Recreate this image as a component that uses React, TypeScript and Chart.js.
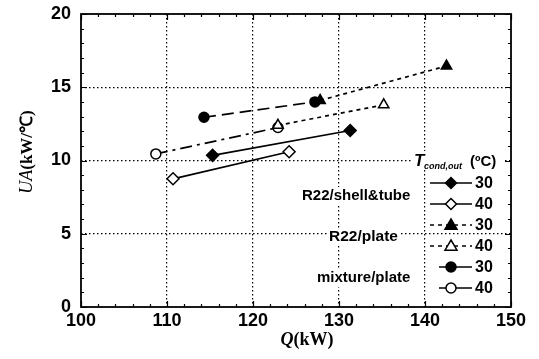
import React, { useEffect, useRef } from "react";
import { Chart, registerables } from "chart.js";
Chart.register(...registerables);

const xRange = [100, 150];
const yRange = [0, 20];
const xStep = 10;
const yStep = 5;

const shellTube30 = [{ x: 115.3, y: 10.35 }, { x: 131.3, y: 12.05 }];
const shellTube40 = [{ x: 110.7, y: 8.75 }, { x: 124.2, y: 10.6 }];
const plate30 = [{ x: 127.8, y: 14.1 }, { x: 142.5, y: 16.45 }];
const plate40 = [{ x: 122.9, y: 12.4 }, { x: 135.2, y: 13.8 }];
const mixture30 = [{ x: 114.3, y: 12.95 }, { x: 127.2, y: 14.0 }];
const mixture40 = [{ x: 108.7, y: 10.45 }, { x: 122.9, y: 12.25 }];

const legendTemps = ["30", "40", "30", "40", "30", "40"];
const groupLabels = ["R22/shell&tube", "R22/plate", "mixture/plate"];

const SANS = '"Liberation Sans", Arial, sans-serif';
const SERIF = '"Liberation Serif", "Times New Roman", serif';

type Style = { shape: string; filled: boolean; dash: number[] };
const styles: Style[] = [
  { shape: "diamond", filled: true, dash: [] },
  { shape: "diamond", filled: false, dash: [] },
  { shape: "triangle", filled: true, dash: [4, 4] },
  { shape: "triangle", filled: false, dash: [4, 4] },
  { shape: "circle", filled: true, dash: [12, 6] },
  { shape: "circle", filled: false, dash: [12, 5, 3, 5] },
];

function drawMarker(ctx: CanvasRenderingContext2D, s: Style, x: number, y: number) {
  ctx.save();
  ctx.setLineDash([]);
  ctx.lineWidth = 1.5;
  ctx.strokeStyle = "#000";
  ctx.fillStyle = s.filled ? "#000" : "#fff";
  ctx.beginPath();
  if (s.shape === "diamond") {
    const r = 5.5;
    ctx.moveTo(x, y - r);
    ctx.lineTo(x + r, y);
    ctx.lineTo(x, y + r);
    ctx.lineTo(x - r, y);
    ctx.closePath();
  } else if (s.shape === "triangle") {
    const r = 6;
    ctx.moveTo(x, y - r);
    ctx.lineTo(x + r, y + r * 0.7);
    ctx.lineTo(x - r, y + r * 0.7);
    ctx.closePath();
  } else {
    ctx.arc(x, y, 5, 0, Math.PI * 2);
  }
  ctx.fill();
  ctx.stroke();
  ctx.restore();
}

function whiteText(ctx: CanvasRenderingContext2D, text: string, x: number, y: number, font: string) {
  ctx.font = font;
  const w = ctx.measureText(text).width;
  ctx.fillStyle = "#fff";
  ctx.fillRect(x - 2, y - 9, w + 4, 18);
  ctx.fillStyle = "#000";
  ctx.textBaseline = "middle";
  ctx.textAlign = "left";
  ctx.fillText(text, x, y);
  return w;
}

const decorPlugin = {
  id: "decor",
  afterDraw(chart: any) {
    const ctx: CanvasRenderingContext2D = chart.ctx;
    const xs = chart.scales.x;
    const ys = chart.scales.y;
    const { left, right, top, bottom } = chart.chartArea;
    ctx.save();
    // ticks, inward on all four sides
    ctx.strokeStyle = "#000";
    ctx.lineWidth = 1.2;
    ctx.setLineDash([]);
    ctx.beginPath();
    for (let v = xRange[0]; v <= xRange[1] + 1e-6; v += 2) {
      const px = Math.round(xs.getPixelForValue(v)) + 0.5;
      const len = Math.abs(v % 10) < 1e-6 ? 6 : 3;
      ctx.moveTo(px, bottom);
      ctx.lineTo(px, bottom - len);
      ctx.moveTo(px, top);
      ctx.lineTo(px, top + len);
    }
    for (let v = yRange[0]; v <= yRange[1] + 1e-6; v += 1) {
      const py = Math.round(ys.getPixelForValue(v)) + 0.5;
      const len = Math.abs(v % 5) < 1e-6 ? 6 : 3;
      ctx.moveTo(left, py);
      ctx.lineTo(left + len, py);
      ctx.moveTo(right, py);
      ctx.lineTo(right - len, py);
    }
    ctx.stroke();
    // frame
    ctx.lineWidth = 1.8;
    ctx.strokeRect(left, top, right - left, bottom - top);

    // group labels
    const lblFont = `bold 15px ${SANS}`;
    whiteText(ctx, groupLabels[0], 302, 196, lblFont);
    whiteText(ctx, groupLabels[1], 329, 237, `bold 15.5px ${SANS}`);
    whiteText(ctx, groupLabels[2], 317, 278, lblFont);

    // legend title
    ctx.fillStyle = "#fff";
    ctx.fillRect(412, 151, 92, 18);
    ctx.fillStyle = "#000";
    ctx.textBaseline = "alphabetic";
    ctx.textAlign = "left";
    ctx.font = `italic bold 17px ${SANS}`;
    ctx.fillText("T", 414, 166);
    ctx.font = `italic bold 9px ${SANS}`;
    ctx.fillText("cond,out", 424, 169);
    ctx.font = `bold 15px ${SANS}`;
    ctx.fillText("(\u00baC)", 470, 166);

    // legend rows
    const rowY = [183, 204, 225, 246, 267, 288];
    styles.forEach((s, i) => {
      const y = rowY[i];
      const x0 = i >= 4 ? 439 : 430;
      const x1 = 472;
      ctx.save();
      ctx.strokeStyle = "#000";
      ctx.lineWidth = 1.6;
      ctx.setLineDash(i >= 4 ? [] : s.dash);
      ctx.beginPath();
      ctx.moveTo(x0, y);
      ctx.lineTo(x1, y);
      ctx.stroke();
      ctx.restore();
      drawMarker(ctx, s, 451, y);
      ctx.fillStyle = "#000";
      ctx.font = `bold 16px ${SANS}`;
      ctx.textBaseline = "middle";
      ctx.fillText(legendTemps[i], 475, y + 1);
    });

    // axis titles
    ctx.textBaseline = "alphabetic";
    ctx.font = `italic bold 18px ${SERIF}`;
    const q = "Q";
    const rest = "(kW)";
    const qw = ctx.measureText(q).width;
    ctx.font = `bold 18px ${SERIF}`;
    const rw = ctx.measureText(rest).width;
    const xStart = 307 - (qw + rw) / 2;
    ctx.font = `italic bold 18px ${SERIF}`;
    ctx.fillText(q, xStart, 345);
    ctx.font = `bold 18px ${SERIF}`;
    ctx.fillText(rest, xStart + qw, 345);

    ctx.save();
    ctx.translate(32, 152);
    ctx.rotate(-Math.PI / 2);
    ctx.font = `italic 18px ${SERIF}`;
    const ua = "UA";
    const uaw = ctx.measureText(ua).width;
    ctx.font = `bold 17px ${SERIF}`;
    const unit = "(kW/\u2103)";
    const uw = ctx.measureText(unit).width;
    const s0 = -(uaw + uw) / 2;
    ctx.font = `italic 18px ${SERIF}`;
    ctx.fillText(ua, s0, 0);
    ctx.font = `bold 17px ${SERIF}`;
    ctx.fillText(unit, s0 + uaw, 0);
    ctx.restore();

    ctx.restore();
  },
};

const seriesData = [shellTube30, shellTube40, plate30, plate40, mixture30, mixture40];

export default function App() {
  const ref = useRef<HTMLCanvasElement | null>(null);
  useEffect(() => {
    if (!ref.current) return;
    const datasets = seriesData.map((d, i) => {
      const s = styles[i];
      return {
        data: d,
        borderColor: "#000",
        borderWidth: 1.7,
        borderDash: s.dash,
        backgroundColor: s.filled ? "#000" : "#fff",
        pointStyle: s.shape === "diamond" ? "rectRot" : s.shape === "triangle" ? "triangle" : "circle",
        pointRadius: s.shape === "circle" ? 5 : 6,
        pointBorderWidth: 1.5,
        pointBorderColor: "#000",
        pointBackgroundColor: s.filled ? "#000" : "#fff",
        showLine: true,
        fill: false,
      };
    });
    const gridColor = (lo: number, hi: number) => (c: any) =>
      c.tick && (c.tick.value === lo || c.tick.value === hi) ? "rgba(0,0,0,0)" : "#000";
    const chart = new Chart(ref.current, {
      type: "scatter",
      data: { datasets: datasets as any },
      options: {
        animation: false,
        responsive: false,
        layout: { padding: { left: 0, top: 14, right: 28, bottom: 0 } },
        plugins: { legend: { display: false }, tooltip: { enabled: false } },
        scales: {
          x: {
            type: "linear",
            min: xRange[0],
            max: xRange[1],
            afterFit: (s: any) => { s.height = 52; s.paddingLeft = 0; s.paddingRight = 0; },
            ticks: { stepSize: xStep, color: "#000", font: { family: SANS, size: 18, weight: "bold" }, padding: 3, maxRotation: 0 },
            grid: { color: gridColor(xRange[0], xRange[1]), drawTicks: false, lineWidth: 1.2 },
            border: { display: false, dash: [1.5, 2.5] },
          },
          y: {
            type: "linear",
            min: yRange[0],
            max: yRange[1],
            afterFit: (s: any) => { s.width = 81; s.paddingTop = 0; s.paddingBottom = 0; },
            ticks: { stepSize: yStep, color: "#000", font: { family: SANS, size: 18, weight: "bold" }, padding: 10 },
            grid: { color: gridColor(yRange[0], yRange[1]), drawTicks: false, lineWidth: 1.2 },
            border: { display: false, dash: [1.5, 2.5] },
          },
        },
      } as any,
      plugins: [decorPlugin],
    });
    return () => chart.destroy();
  }, []);
  return (
    <div style={{ position: "absolute", left: 0, top: 0, width: 539, height: 359, background: "#fff" }}>
      <canvas ref={ref} width={539} height={359} style={{ display: "block" }} />
    </div>
  );
}
